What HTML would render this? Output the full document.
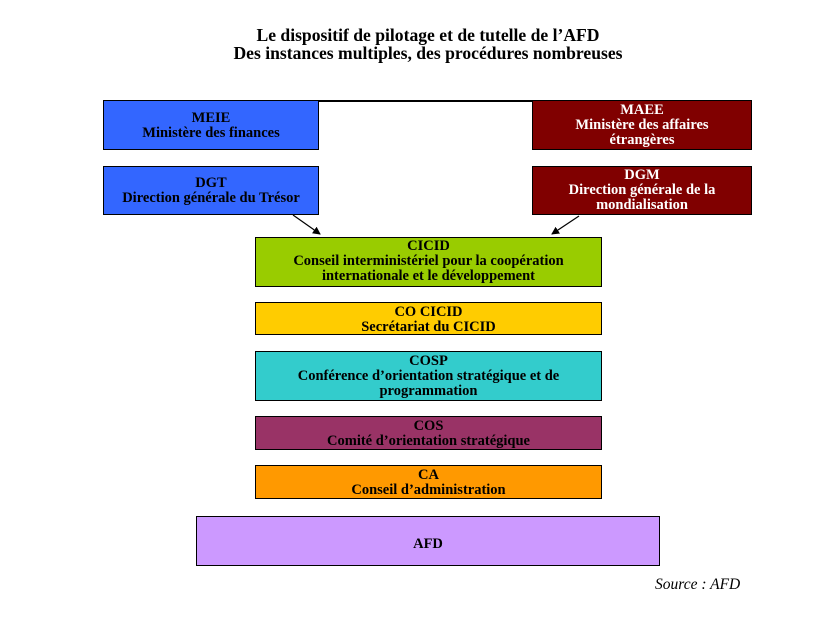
<!DOCTYPE html>
<html><head><meta charset="utf-8"><style>
body{margin:0;width:824px;height:635px;background:#fff;position:relative;font-family:"Liberation Serif",serif;overflow:hidden}
.t{position:absolute;left:16px;width:824px;text-align:center;font-weight:bold;font-size:17.6px;line-height:18px}
.b{position:absolute;box-sizing:border-box;border-top:1.5px solid #000;border-bottom:1.5px solid #000;border-left:1px solid #000;border-right:1px solid #000;text-align:center;font-weight:bold;font-size:14.5px;line-height:15px;color:#000;white-space:nowrap}
.w{color:#fff}
</style></head><body>
<div class="t" style="top:26px">Le dispositif de pilotage et de tutelle de l’AFD</div>
<div class="t" style="top:44px">Des instances multiples, des procédures nombreuses</div>
<div style="position:absolute;left:103px;top:100px;width:648px;height:1.5px;background:#000"></div>
<div class="b" style="left:103px;top:100px;width:216px;height:50px;background:#3366ff;padding-top:10px">MEIE<br>Ministère des finances</div>
<div class="b w" style="left:532px;top:100px;width:220px;height:50px;background:#800000;padding-top:2px">MAEE<br>Ministère des affaires<br>étrangères</div>
<div class="b" style="left:103px;top:166px;width:216px;height:49px;background:#3366ff;padding-top:9px">DGT<br>Direction générale du Trésor</div>
<div class="b w" style="left:532px;top:166px;width:220px;height:49px;background:#800000;padding-top:1px">DGM<br>Direction générale de la<br>mondialisation</div>
<svg style="position:absolute;left:0;top:0" width="824" height="635">
<defs><marker id="a" markerWidth="8" markerHeight="8" refX="7" refY="4" orient="auto" markerUnits="userSpaceOnUse"><path d="M0,0 L8,4 L0,8 z" fill="#000"/></marker></defs>
<line x1="293" y1="215" x2="320" y2="234" stroke="#000" stroke-width="1.2" marker-end="url(#a)"/>
<line x1="579" y1="216" x2="552" y2="234" stroke="#000" stroke-width="1.2" marker-end="url(#a)"/>
</svg>
<div class="b" style="left:255px;top:237px;width:347px;height:50px;background:#99cc00;padding-top:1px">CICID<br>Conseil interministériel pour la coopération<br>internationale et le développement</div>
<div class="b" style="left:255px;top:302px;width:347px;height:33px;background:#ffcc00;padding-top:2px">CO CICID<br>Secrétariat du CICID</div>
<div class="b" style="left:255px;top:351px;width:347px;height:50px;background:#33cccc;padding-top:2px">COSP<br>Conférence d’orientation stratégique et de<br>programmation</div>
<div class="b" style="left:255px;top:416px;width:347px;height:34px;background:#993366;padding-top:2px">COS<br>Comité d’orientation stratégique</div>
<div class="b" style="left:255px;top:465px;width:347px;height:34px;background:#ff9900;padding-top:2px">CA<br>Conseil d’administration</div>
<div class="b" style="left:196px;top:516px;width:464px;height:50px;background:#cc99ff;padding-top:20px">AFD</div>
<div style="position:absolute;left:655px;top:576px;font-style:italic;font-size:15.5px">Source : AFD</div>
</body></html>
